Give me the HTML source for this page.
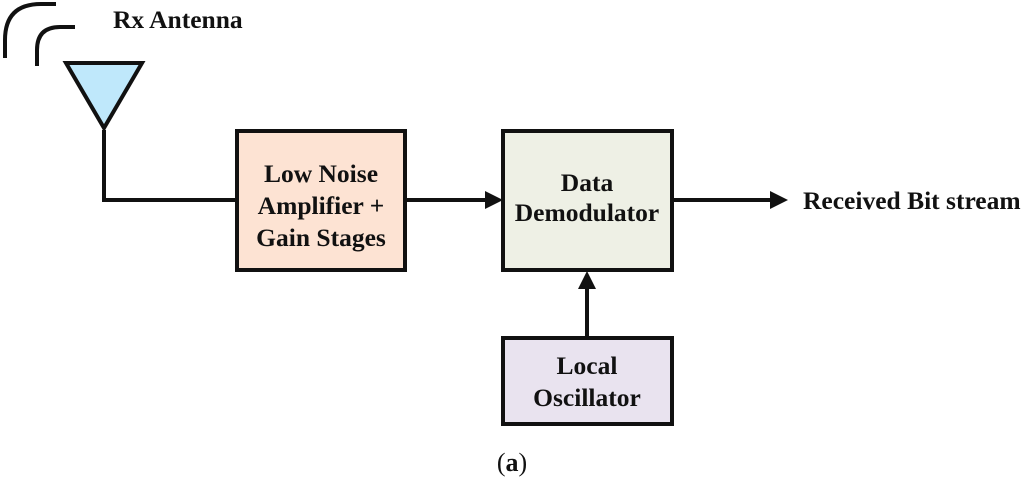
<!DOCTYPE html>
<html><head><meta charset="utf-8"><style>
html,body{margin:0;padding:0;background:#fff;}
svg{display:block;}
text{font-family:"Liberation Serif",serif;font-weight:bold;fill:#111;}
</style></head><body>
<svg width="1024" height="478" viewBox="0 0 1024 478" xmlns="http://www.w3.org/2000/svg">
<g fill="none" stroke="#111" stroke-width="4" stroke-linecap="butt">
<path d="M5,58 V40 Q5,4 41,4 H56"/>
<path d="M37,66 V50 Q37,27 60,27 H75"/>
<polyline points="104,130 104,200 237,200"/>
<line x1="405" y1="200" x2="490" y2="200"/>
<line x1="672" y1="200" x2="773" y2="200"/>
<line x1="587" y1="338" x2="587" y2="284"/>
</g>
<polygon points="66,63 142,63 104,128" fill="#bfe8fb" stroke="#111" stroke-width="4" stroke-linejoin="miter"/>
<polygon points="503,200 485,191 485,209" fill="#111"/>
<polygon points="788,200 770,191 770,209" fill="#111"/>
<polygon points="587,271 578,289 596,289" fill="#111"/>
<rect x="237" y="131" width="168" height="139" fill="#fde3d3" stroke="#111" stroke-width="4"/>
<rect x="503" y="131" width="169" height="139" fill="#eef0e5" stroke="#111" stroke-width="4"/>
<rect x="503" y="338" width="169" height="86" fill="#e9e3ef" stroke="#111" stroke-width="4"/>
<text x="113" y="28" font-size="25.5">Rx Antenna</text>
<g font-size="25.5" text-anchor="middle">
<text x="321" y="182">Low Noise</text>
<text x="321" y="214">Amplifier +</text>
<text x="321" y="246">Gain Stages</text>
<text x="587" y="191">Data</text>
<text x="587" y="221">Demodulator</text>
<text x="587" y="374">Local</text>
<text x="587" y="406">Oscillator</text>
</g>
<text x="803" y="209" font-size="25.5">Received Bit stream</text>
<text x="512" y="471" font-size="26" text-anchor="middle"><tspan font-weight="normal">(</tspan>a<tspan font-weight="normal">)</tspan></text>
</svg>
</body></html>
